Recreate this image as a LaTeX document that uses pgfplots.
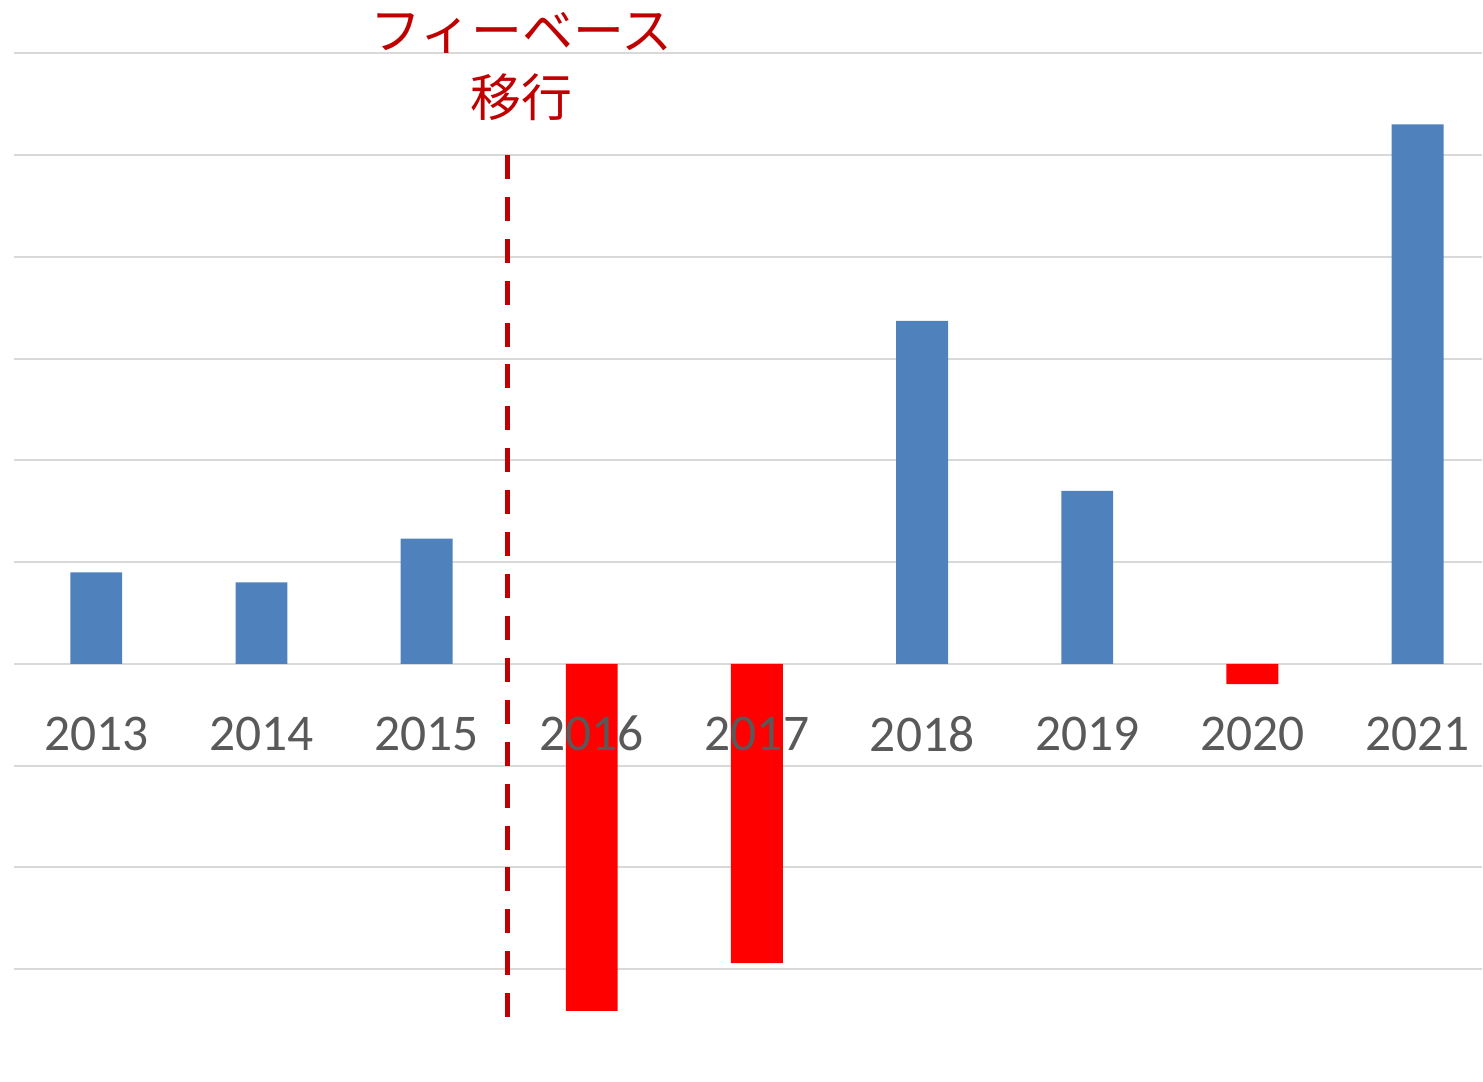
\documentclass[border=0pt]{standalone}
\usepackage{pgfplots}
\pgfplotsset{compat=1.18}
\usepackage{fontspec}
\setmainfont{Carlito}
\newfontfamily\cjk{Noto Sans CJK JP}
\definecolor{barblue}{HTML}{4F81BD}
\definecolor{barred}{HTML}{FF0000}
\definecolor{darkred}{HTML}{C00000}
\definecolor{gridgray}{HTML}{D9D9D9}
\definecolor{labgray}{HTML}{595959}
\tikzset{year label/.style={anchor=center, yshift=-35pt, font=\fontsize{25.8}{30}\selectfont, text=labgray},
  jp label/.style={inner sep=0pt, text=darkred, font=\cjk\fontsize{25.5}{30}\selectfont}}
\begin{document}
\begin{tikzpicture}
\begin{axis}[
  x=82.75pt, y=51pt,
  xmin=-0.5, xmax=8.39,
  ymin=-3.97, ymax=6.52,
  clip=false,
  axis line style={draw=none},
  major tick length=0pt,
  ytick={-3,-2,-1,0,1,2,3,4,5,6},
  yticklabels={},
  ymajorgrids,
  grid style={color=gridgray, line width=1pt},
  xtick={0,1,2,3,4,5,6,7,8},
  xticklabels={},
  ybar, bar width=26pt, bar shift=0pt,
]
\path (rel axis cs:0,0) ++(-6pt,0) (rel axis cs:1,1);
\addplot[draw=none, fill=barblue] coordinates {(0,0.90) (1,0.80) (2,1.23) (5,3.37) (6,1.70) (8,5.30)};
\addplot[draw=none, fill=barred] coordinates {(3,-3.41) (4,-2.94) (7,-0.20)};
\addplot[sharp plot, darkred, line width=2.25pt, dash pattern=on 12pt off 9pt] coordinates {(2.49,5) (2.49,-3.48)};
\node[year label] at (axis cs:0,0) {2013};
\node[year label] at (axis cs:1,0) {2014};
\node[year label] at (axis cs:2,0) {2015};
\node[year label] at (axis cs:3,0) {2016};
\node[year label] at (axis cs:4,0) {2017};
\node[year label] at (axis cs:5,0) {2018};
\node[year label] at (axis cs:6,0) {2019};
\node[year label] at (axis cs:7,0) {2020};
\node[year label] at (axis cs:8,0) {2021};
\node[jp label] at (axis cs:2.574,6.196) {フィーベース};
\node[jp label] at (axis cs:2.574,5.569) {移行};
\end{axis}
\end{tikzpicture}
\end{document}
